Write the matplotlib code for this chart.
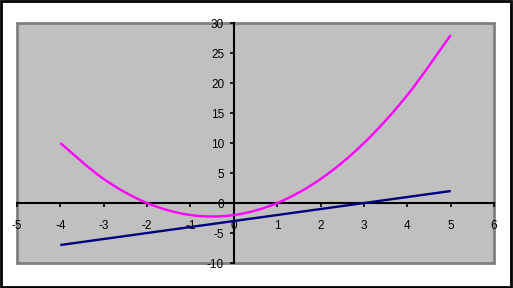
import numpy as np
import matplotlib.pyplot as plt
from matplotlib.path import Path
from matplotlib.patches import PathPatch, Rectangle

x = [-4, -3, -2, -1, 0, 1, 2, 3, 4, 5]
y_curve = [10, 4, 0, -2, -2, 0, 4, 10, 18, 28]
y_line = [-7, -6, -5, -4, -3, -2, -1, 0, 1, 2]

xticks = [-5, -4, -3, -2, -1, 0, 1, 2, 3, 4, 5, 6]
yticks = [-10, -5, 0, 5, 10, 15, 20, 25, 30]


def smooth_path(xs, ys):
    # Excel-like smoothed line: Catmull-Rom segments as cubic beziers
    p = np.column_stack([xs, ys]).astype(float)
    pts = [p[0]]
    codes = [Path.MOVETO]
    n = len(p)
    for i in range(n - 1):
        p0 = p[i - 1] if i > 0 else p[i]
        p3 = p[i + 2] if i + 2 < n else p[i + 1]
        c1 = p[i] + (p[i + 1] - p0) / 6
        c2 = p[i + 1] - (p3 - p[i]) / 6
        pts += [c1, c2, p[i + 1]]
        codes += [Path.CURVE4] * 3
    return Path(pts, codes)


plt.rcParams['font.family'] = ['Liberation Sans', 'DejaVu Sans']
plt.rcParams['axes.unicode_minus'] = False

fig = plt.figure(figsize=(5.13, 2.88), dpi=100)
fig.patches.append(Rectangle((0.002, 0.004), 0.994, 0.992, transform=fig.transFigure,
                             fill=False, edgecolor='black', lw=2))
ax = fig.add_axes([0.0331, 0.0868, 0.930, 0.833])
ax.set_facecolor('#C0C0C0')

ax.add_patch(PathPatch(smooth_path(x, y_curve), fill=False, edgecolor='#FF00FF', lw=1.7, zorder=3))
ax.add_patch(PathPatch(smooth_path(x, y_line), fill=False, edgecolor='#000080', lw=1.7, zorder=3))

ax.set_xlim(-5, 6)
ax.set_ylim(-10, 30)
ax.set_xticks(xticks)
ax.set_yticks(yticks)

ax.spines['left'].set_position(('data', 0))
ax.spines['bottom'].set_position(('data', 0))
ax.spines['left'].set_linewidth(1.5)
ax.spines['bottom'].set_linewidth(1.5)
ax.spines['top'].set_visible(False)
ax.spines['right'].set_visible(False)
ax.add_patch(Rectangle((0, 0), 1, 1, transform=ax.transAxes, fill=False,
                       edgecolor='#808080', lw=2, clip_on=False, zorder=1))

ax.tick_params(axis='x', direction='out', length=3, width=1.2, pad=9, labelsize=8.5)
ax.tick_params(axis='y', direction='out', length=3, width=1.2, pad=4, labelsize=8.5)

fig.savefig('out.png', dpi=100)
